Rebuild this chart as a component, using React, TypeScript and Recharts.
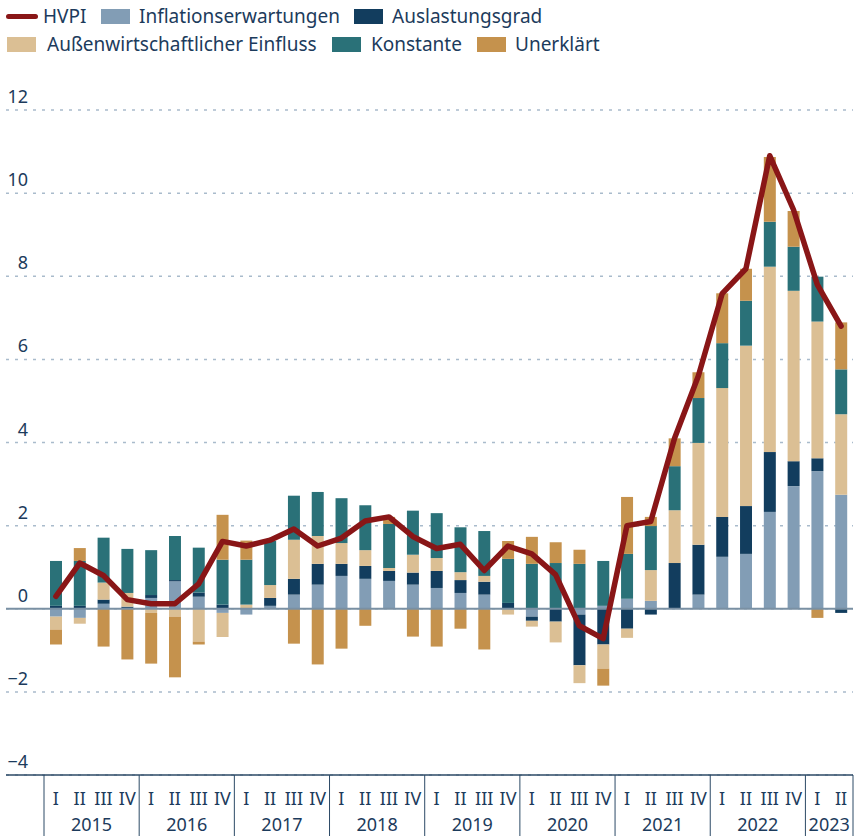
import React from "react";
import {
  ComposedChart,
  Bar,
  Line,
  XAxis,
  YAxis,
  CartesianGrid,
  ReferenceLine,
} from "recharts";

const years = ["2015", "2016", "2017", "2018", "2019", "2020", "2021", "2022", "2023"];
const quartersPerYear = [4, 4, 4, 4, 4, 4, 4, 4, 2];
const quarterNames = ["I", "II", "III", "IV"];

const inflationserwartungen = [
  -0.19, -0.22, 0.12, 0.02, 0.26, 0.66, 0.29, -0.1, -0.14, 0.07, 0.34, 0.58,
  0.79, 0.72, 0.67, 0.58, 0.5, 0.38, 0.34, 0, -0.19, 0, -0.14, 0.07, 0.24,
  0.19, 0, 0.34, 1.25, 1.32, 2.33, 2.95, 3.31, 2.74,
];
const auslastungsgrad = [
  0.07, 0.07, 0.1, 0.03, 0.07, 0.03, 0.1, 0.1, 0, 0.19, 0.38, 0.5, 0.29, 0.31,
  0.24, 0.29, 0.41, 0.31, 0.31, 0.14, -0.1, -0.31, -1.22, -0.86, -0.48, -0.14,
  1.1, 1.2, 0.96, 1.15, 1.44, 0.6, 0.31, -0.1,
];
const aussenwirtschaft = [
  -0.31, -0.14, 0.41, 0.33, -0.1, -0.19, -0.79, -0.58, 0.1, 0.31, 0.94, 0.67,
  0.5, 0.38, 0.07, 0.43, 0.31, 0.19, 0.14, -0.14, -0.14, -0.5, -0.43, -0.58,
  -0.22, 0.74, 1.27, 2.45, 3.1, 3.86, 4.46, 4.1, 3.29, 1.94,
];
const konstante = [
  1.08, 1.08, 1.08, 1.06, 1.08, 1.06, 1.08, 1.08, 1.08, 1.06, 1.06, 1.06, 1.08,
  1.08, 1.06, 1.06, 1.08, 1.08, 1.08, 1.06, 1.08, 1.1, 1.08, 1.08, 1.08, 1.06,
  1.06, 1.08, 1.08, 1.08, 1.08, 1.06, 1.08, 1.08,
];
const unerklaert = [
  -0.36, 0.31, -0.91, -1.22, -1.22, -1.46, -0.07, 1.08, 0.46, 0, -0.84, -1.34,
  -0.96, -0.41, 0.17, -0.67, -0.91, -0.48, -0.98, 0.43, 0.65, 0.5, 0.34, -0.41,
  1.37, 0.22, 0.67, 0.62, 1.2, 0.77, 1.56, 0.86, -0.22, 1.13,
];
const hvpi = [
  0.3, 1.1, 0.8, 0.22, 0.12, 0.12, 0.6, 1.62, 1.51, 1.65, 1.92, 1.51, 1.7, 2.11,
  2.21, 1.74, 1.45, 1.55, 0.92, 1.51, 1.32, 0.82, -0.41, -0.72, 2.0, 2.1, 4.1,
  5.6, 7.58, 8.18, 10.9, 9.6, 7.8, 6.8,
];

const yTicks = [-4, -2, 0, 2, 4, 6, 8, 10, 12];

const C_HVPI = "#891617";
const C_INFL = "#829db5";
const C_AUSL = "#123d5e";
const C_AUSSEN = "#dbbf94";
const C_KONST = "#2a7178";
const C_UNERK = "#c5924d";
const TEXT = "#1c3b5c";
const FONT = "'Noto Sans', sans-serif";

// build rows
const quarterLabels: string[] = [];
const yearOfRow: number[] = [];
years.forEach((y, yi) => {
  for (let q = 0; q < quartersPerYear[yi]; q++) {
    quarterLabels.push(quarterNames[q]);
    yearOfRow.push(yi);
  }
});

const data = quarterLabels.map((q, i) => ({
  key: `${years[yearOfRow[i]]}-${q}`,
  q,
  infl: inflationserwartungen[i],
  ausl: auslastungsgrad[i],
  aussen: aussenwirtschaft[i],
  konst: konstante[i],
  unerk: unerklaert[i],
  hvpi: hvpi[i],
}));

const AXIS_Y = 775;
const BAND_LEFT = 44;
const PLOT_RIGHT = 853;
const bandW = (PLOT_RIGHT - BAND_LEFT) / data.length;

const XTick = (props: any) => {
  const { x, index } = props;
  const row = data[index];
  const yi = yearOfRow[index];
  const first = row.q === "I";
  const last = index === data.length - 1;
  const n = quartersPerYear[yi];
  return (
    <g>
      <text
        x={x}
        y={805}
        textAnchor="middle"
        fill={TEXT}
        fontSize={18}
        fontFamily={FONT}
      >
        {row.q}
      </text>
      {first && (
        <>
          <line
            x1={x - bandW / 2}
            x2={x - bandW / 2}
            y1={AXIS_Y}
            y2={836}
            stroke="#2c4a66"
            strokeWidth={1}
          />
          <text
            x={x - bandW / 2 + (n * bandW) / 2}
            y={831}
            textAnchor="middle"
            fill={TEXT}
            fontSize={18}
            fontFamily={FONT}
          >
            {years[yi]}
          </text>
        </>
      )}
      {last && (
        <line
          x1={x + bandW / 2}
          x2={x + bandW / 2}
          y1={AXIS_Y}
          y2={836}
          stroke="#2c4a66"
          strokeWidth={1}
        />
      )}
    </g>
  );
};

const YLabel = (props: any) => {
  const { viewBox, value } = props;
  const y = viewBox ? viewBox.y : 0;
  return (
    <text
      x={28}
      y={y - 7}
      textAnchor="end"
      fill={TEXT}
      fontSize={18}
      fontFamily={FONT}
    >
      {value < 0 ? `\u2212${Math.abs(value)}` : value}
    </text>
  );
};

const legendItems = [
  { label: "HVPI", color: C_HVPI, line: true, x: 6, y: 16, tx: 43 },
  { label: "Inflationserwartungen", color: C_INFL, x: 101, y: 16, tx: 139 },
  { label: "Auslastungsgrad", color: C_AUSL, x: 354, y: 16, tx: 392 },
  { label: "Außenwirtschaftlicher Einfluss", color: C_AUSSEN, x: 7, y: 44, tx: 47 },
  { label: "Konstante", color: C_KONST, x: 332, y: 44, tx: 371 },
  { label: "Unerklärt", color: C_UNERK, x: 477, y: 44, tx: 515 },
];

export default function App() {
  return (
    <div
      style={{
        position: "absolute",
        left: 0,
        top: 0,
        width: 856,
        height: 836,
        background: "#fff",
        fontFamily: FONT,
      }}
    >
      {legendItems.map((it) => (
        <React.Fragment key={it.label}>
          <div
            style={{
              position: "absolute",
              left: it.x,
              top: it.line ? it.y - 2.5 : it.y - 7.5,
              width: it.line ? 32 : 29,
              height: it.line ? 5 : 15,
              borderRadius: it.line ? 3 : 0,
              background: it.color,
            }}
          />
          <div
            style={{
              position: "absolute",
              left: it.tx,
              top: it.y - 14,
              height: 28,
              lineHeight: "28px",
              fontSize: 19,
              color: TEXT,
              whiteSpace: "nowrap",
            }}
          >
            {it.label}
          </div>
        </React.Fragment>
      ))}
      <div style={{ position: "absolute", left: 0, top: 0 }}>
        <ComposedChart
          width={856}
          height={836}
          data={data}
          stackOffset="sign"
          margin={{ top: 110, right: 3, left: 6, bottom: 0 }}
          barSize={12}
        >
          <CartesianGrid
            vertical={false}
            stroke="#a9bbcc"
            strokeDasharray="3 6"
            strokeWidth={1.5}
          />
          <XAxis
            dataKey="key"
            height={61}
            interval={0}
            tickLine={false}
            axisLine={{ stroke: "#2c4a66", strokeWidth: 1.5 }}
            padding={{ left: BAND_LEFT - 6, right: 0 }}
            tick={<XTick />}
          />
          <YAxis
            type="number"
            domain={[-4, 12]}
            ticks={yTicks}
            hide
          />
          <Bar dataKey="infl" stackId="a" fill={C_INFL} isAnimationActive={false} />
          <Bar dataKey="ausl" stackId="a" fill={C_AUSL} isAnimationActive={false} />
          <Bar dataKey="aussen" stackId="a" fill={C_AUSSEN} isAnimationActive={false} />
          <Bar dataKey="konst" stackId="a" fill={C_KONST} isAnimationActive={false} />
          <Bar dataKey="unerk" stackId="a" fill={C_UNERK} isAnimationActive={false} />
          <ReferenceLine y={0} stroke="#7a90a3" strokeWidth={2} />
          {yTicks.map((t) => (
            <ReferenceLine
              key={`yl-${t}`}
              y={t}
              stroke="none"
              strokeOpacity={0}
              ifOverflow="visible"
              label={<YLabel value={t} />}
            />
          ))}
          <Line
            type="linear"
            dataKey="hvpi"
            stroke={C_HVPI}
            strokeWidth={5.5}
            strokeLinejoin="round"
            strokeLinecap="round"
            dot={false}
            isAnimationActive={false}
          />
        </ComposedChart>
      </div>
    </div>
  );
}
